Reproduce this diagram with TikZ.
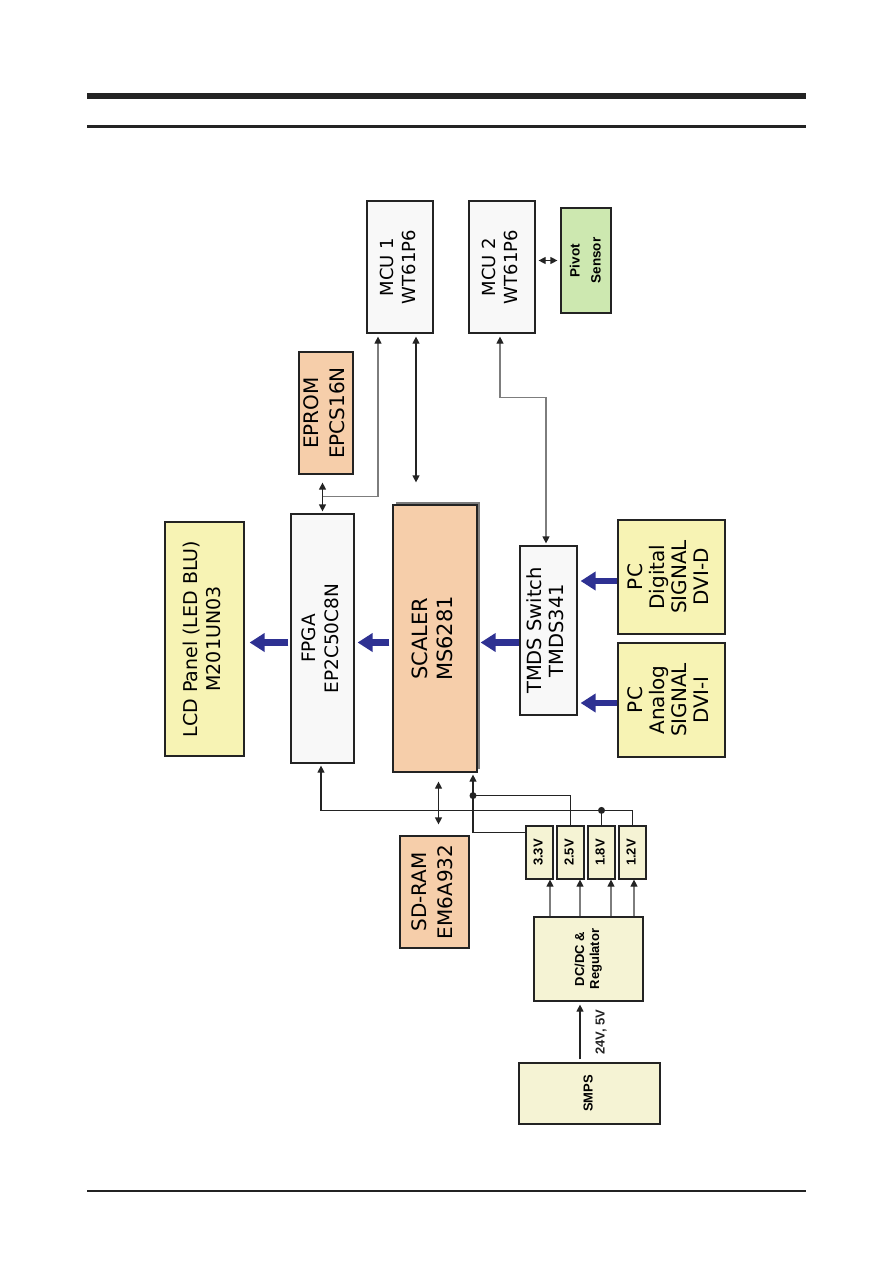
\documentclass[tikz,border=0pt]{standalone}
\usepackage{fontspec}
\setmainfont{DejaVu Sans}
\newfontfamily\arialfont{Liberation Sans}
\usepackage{graphicx}
\usetikzlibrary{arrows.meta,positioning,calc,shadows}
\definecolor{peach}{RGB}{246,206,170}
\definecolor{lemon}{RGB}{247,243,180}
\definecolor{cream}{RGB}{245,243,212}
\definecolor{mint}{RGB}{205,232,176}
\definecolor{paper}{RGB}{248,248,248}
\definecolor{arrowblue}{RGB}{46,49,146}
\definecolor{ink}{RGB}{35,35,35}
\definecolor{wire}{RGB}{125,125,125}
\newcommand{\vtext}[1]{\rotatebox{90}{\begin{tabular}{@{}c@{}}#1\end{tabular}}}

\begin{document}
\begin{tikzpicture}[x=1pt,y=-1pt,
    blk/.style={draw=ink, line width=1.2pt, inner sep=0pt},
    chip/.style={blk, fill=paper, font=\fontsize{18}{22}\selectfont},
    mem/.style={blk, fill=peach, font=\fontsize{20}{26}\selectfont},
    io/.style={blk, fill=lemon, font=\fontsize{20}{22}\selectfont},
    pwr/.style={blk, fill=cream, font=\arialfont\bfseries\fontsize{13}{15}\selectfont},
    big/.style={-{Triangle[length=15pt,width=18pt]}, line width=6.5pt, arrowblue},
    wr/.style={-{Triangle[length=7pt,width=7pt,color=ink]}, line width=1.2pt, ink},
    dwr/.style={{Triangle[length=7pt,width=7pt,color=ink]}-{Triangle[length=7pt,width=7pt,color=ink]}, line width=1.2pt, ink},
    jdot/.style={circle, fill=ink, inner sep=0pt, minimum size=7pt}
  ]
  \useasboundingbox (0,0) rectangle (893,1263);
  % page rules
  \fill[ink] (87,93) rectangle (806,99);
  \fill[ink] (87,125) rectangle (806,128);
  \fill[ink] (87,1190.3) rectangle (806,1191.8);

  % controllers
  \node[chip, minimum width=66pt, minimum height=132pt] (mcu1) at (400,267) {\vtext{MCU 1\\WT61P6}};
  \node[chip, minimum width=66pt, minimum height=132pt] (mcu2) at (502,267) {\vtext{MCU 2\\WT61P6}};
  \node[blk, fill=mint, minimum width=50pt, minimum height=105pt,
        font=\arialfont\bfseries\fontsize{13.5}{21}\selectfont] (pivot) at (586,260.5) {\vtext{Pivot\\Sensor}};

  % main chain
  \node[mem, minimum width=54pt, minimum height=122pt] (eprom) at (326,413) {\vtext{EPROM\\EPCS16N}};
  \node[chip, minimum width=63pt, minimum height=249pt, font=\fontsize{18.5}{23}\selectfont] (fpga) at (322.5,638.5) {\vtext{FPGA\\EP2C50C8N}};
  \node[mem, minimum width=84pt, minimum height=267pt, font=\fontsize{21}{25}\selectfont,
        drop shadow={shadow xshift=3pt, shadow yshift=3pt, fill=wire, opacity=1}] (scaler) at (435,638.5) {\vtext{SCALER\\MS6281}};
  \node[chip, minimum width=57pt, minimum height=169pt, font=\fontsize{19.5}{22}\selectfont] (tmds) at (548.5,630.5) {\vtext{TMDS Switch\\TMDS341}};
  \node[io, minimum width=107pt, minimum height=114pt] (pcd) at (671.5,577) {\vtext{PC\\Digital\\SIGNAL\\DVI-D}};
  \node[io, minimum width=107pt, minimum height=114pt] (pca) at (671.5,700) {\vtext{PC\\Analog\\SIGNAL\\DVI-I}};
  \node[io, minimum width=79pt, minimum height=234pt, font=\fontsize{19}{23}\selectfont] (lcd) at (204.5,639) {\vtext{LCD Panel (LED BLU)\\M201UN03}};
  \node[mem, minimum width=69pt, minimum height=112pt] (sdram) at (434.5,892) {\vtext{SD-RAM\\EM6A932}};

  % power
  \node[pwr, minimum width=27pt, minimum height=53pt] (v33) at (539.5,852.5) {\vtext{3.3V}};
  \node[pwr, minimum width=27pt, minimum height=53pt] (v25) at (570.5,852.5) {\vtext{2.5V}};
  \node[pwr, minimum width=27pt, minimum height=53pt] (v18) at (601.5,852.5) {\vtext{1.8V}};
  \node[pwr, minimum width=27pt, minimum height=53pt] (v12) at (632.5,852.5) {\vtext{1.2V}};
  \node[pwr, minimum width=109pt, minimum height=84pt] (dcdc) at (588.5,959) {\vtext{DC/DC \&\\Regulator}};
  \node[pwr, minimum width=141pt, minimum height=61pt] (smps) at (589.5,1093.5) {\vtext{SMPS}};

  % video path
  \coordinate (row) at (0,642.5);
  \draw[big, shorten >=3pt] ([yshift=-4pt]pcd.west) -- ([yshift=-4pt]pcd.west -| tmds.east);
  \draw[big, shorten >=3pt] ([yshift=-3pt]pca.west) -- ([yshift=-3pt]pca.west -| tmds.east);
  \draw[big, shorten >=3pt] (tmds.west |- row) -- (scaler.east |- row);
  \draw[big, shorten <=3pt, shorten >=3pt] (scaler.west |- row) -- (fpga.east |- row);
  \draw[big, shorten <=2pt, shorten >=5pt] (fpga.west |- row) -- (lcd.east |- row);

  % control lines
  \draw[dwr, shorten <=3pt, shorten >=3pt] (pivot.west) -- (pivot.west -| mcu2.east);
  \draw[dwr, shorten <=3pt, shorten >=22pt] ([xshift=16pt]mcu1.south) -- ([xshift=16pt]mcu1.south |- scaler.north);
  \draw[dwr, shorten <=8pt, shorten >=2pt] (eprom.south -| fpga.north) -- (fpga.north);
  \draw[wr, wire, shorten >=3pt] ([yshift=17pt]fpga.north) -| ([xshift=-22pt]mcu1.south);
  \draw[dwr, wire, shorten <=3pt, shorten >=2pt] ([xshift=-2pt]mcu2.south) -- ([xshift=-2pt,yshift=-64pt]mcu2.south)
    -| ([xshift=-2.5pt]tmds.north);
  \draw[dwr, shorten <=9pt, shorten >=11pt] ([xshift=4pt]sdram.north |- scaler.south) -- ([xshift=4pt]sdram.north);

  % supply rails
  \coordinate (bus) at ([yshift=15pt]v12.north);
  \coordinate (dot1) at ([xshift=38pt,yshift=-23pt]scaler.south);
  \draw[wr, shorten >=2pt] ([yshift=-7pt]v33.north west) -| ([xshift=38pt]scaler.south);
  \draw[line width=1.2pt, ink] (v25.north) |- (dot1);
  \draw[wr, shorten >=2pt] (v12.north) -- (bus) -| ([xshift=-1.5pt]fpga.south);
  \draw[line width=1.2pt, ink] (v18.north) -- (v18.north |- bus);
  \node[jdot] (j1) at (dot1) {};
  \node[jdot] (j2) at (v18.north |- bus) {};
  \draw[wr, wire] ([xshift=10.5pt]v33.south |- dcdc.north) -- ([xshift=10.5pt]v33.south);
  \draw[wr, wire] ([xshift=9.5pt]v25.south |- dcdc.north) -- ([xshift=9.5pt]v25.south);
  \draw[wr, wire] ([xshift=9.5pt]v18.south |- dcdc.north) -- ([xshift=9.5pt]v18.south);
  \draw[wr, wire] ([xshift=1.5pt]v12.south |- dcdc.north) -- ([xshift=1.5pt]v12.south);
  \draw[wr, shorten <=3pt, shorten >=3pt] ([xshift=-9.5pt]smps.north)
    -- node[right=15pt, inner sep=0pt, font=\arialfont\bfseries\fontsize{13}{15}\selectfont] {\rotatebox{90}{24V, 5V}}
    ([xshift=-9.5pt]smps.north |- dcdc.south);
\end{tikzpicture}
\end{document}
